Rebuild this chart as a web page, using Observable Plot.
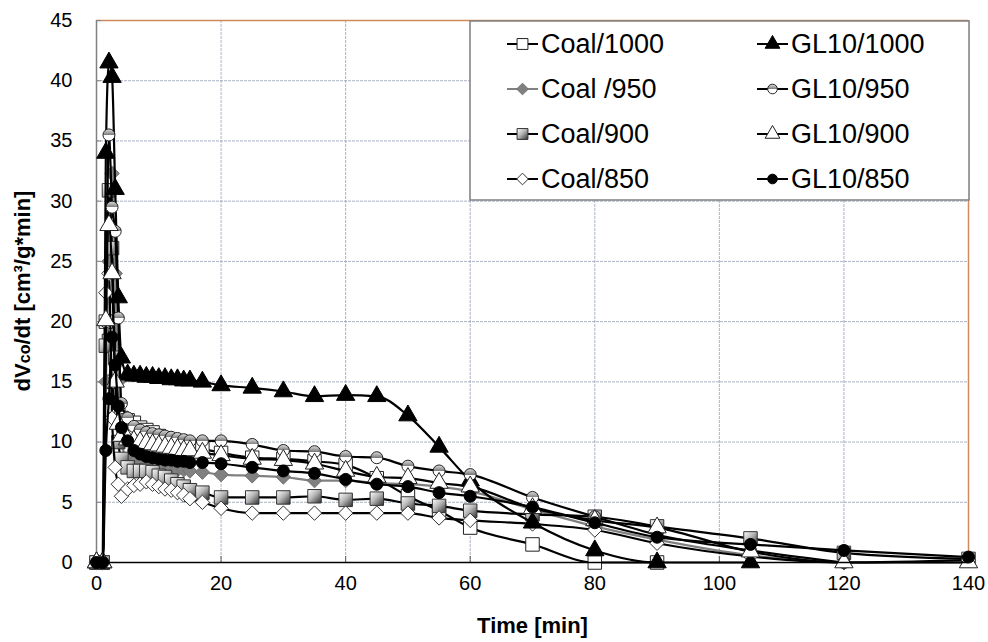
<!DOCTYPE html>
<html><head><meta charset="utf-8">
<script src="https://cdn.jsdelivr.net/npm/d3@7"></script>
<script src="https://cdn.jsdelivr.net/npm/@observablehq/plot@0.6"></script>
<style>
html,body{margin:0;padding:0;background:#fff;}
#wrap{position:relative;width:988px;height:642px;}
</style></head><body><div id="wrap"></div>
<script>
// ---- data (time in min, dVco/dt in cm3/g*min) ----
const times     = [0, 1, 1.5, 2, 2.5, 3, 3.5, 4, 5, 6, 7, 8, 9, 10, 11, 12, 13, 14, 15, 17, 20, 25, 30, 35, 40, 45, 50, 55, 60, 70, 80, 90, 105, 120, 140];
const coal1000  = [0, 0, 20.0, 18.4, 15.0, 13.0, 12.3, 12.0, 11.8, 11.6, 11.2, 11.0, 10.8, 10.5, 10.3, 10.1, 9.8, 9.6, 9.4, 9.4, 9.1, 8.7, 8.6, 8.4, 8.1, 7.0, 5.5, 4.3, 2.9, 1.5, 0, 0, null, null, null];
const coal950   = [0, 0, 15, 25, 32.3, 24, 15, 10, 8.5, 8.3, 8.2, 8.1, 8.0, 8.0, 7.9, 7.8, 7.7, 7.7, 7.6, 7.5, 7.3, 7.2, 7.1, 6.8, 6.8, 6.6, 6.5, 6.3, 5.9, 4.4, 3.0, 1.9, 0.6, 0, null];
const coal900   = [0, 0, 18, 30.9, 26.1, 17, 10, 8.6, 7.9, 7.6, 7.6, 7.6, 7.5, 7.2, 7.1, 6.8, 6.5, 6.3, 6.0, 5.8, 5.4, 5.4, 5.4, 5.5, 5.2, 5.3, 4.9, 4.7, 4.3, 4.0, 3.8, 3.0, 2.0, 0.8, 0.3];
const coal850   = [0, 0, 22.4, 24.0, 12, 7.9, 6.5, 5.5, 6.1, 6.4, 6.5, 6.7, 6.5, 6.3, 6.1, 6.0, 5.8, 5.6, 5.3, 5.0, 4.5, 4.1, 4.1, 4.1, 4.1, 4.1, 4.1, 3.7, 3.5, 3.2, 2.7, 1.6, 0.5, 0, 0.2];
const gl1000    = [0, 0, 34, 41.5, 40.3, 31, 22, 17, 15.6, 15.5, 15.5, 15.4, 15.4, 15.3, 15.3, 15.2, 15.2, 15.1, 15.1, 15.0, 14.7, 14.5, 14.2, 13.8, 13.9, 13.8, 12.2, 9.6, 6.8, 3.3, 1.0, 0, 0, null, null];
const gl950     = [0, 0, 20, 35.5, 29.5, 27.5, 20.3, 13.2, 12.0, 11.3, 11.0, 10.8, 10.7, 10.6, 10.5, 10.4, 10.3, 10.2, 10.1, 10.1, 10.1, 9.8, 9.3, 9.2, 8.8, 8.7, 8.0, 7.6, 7.3, 5.4, 3.8, 2.3, 1.0, 0, null];
const gl900     = [0, 0, 20.1, 28, 24, 15, 11.5, 10.5, 10.2, 10.1, 10.0, 9.9, 9.8, 9.7, 9.6, 9.5, 9.4, 9.3, 9.3, 9.1, 8.9, 8.6, 8.5, 8.2, 7.6, 7.1, 7.0, 6.6, 6.3, 4.5, 3.5, 2.9, 0.9, 0, 0];
const gl850     = [0, 0, 9.3, 13.6, 18.7, 16.4, 13.0, 11.2, 10.1, 9.3, 9.0, 8.8, 8.7, 8.6, 8.5, 8.5, 8.4, 8.4, 8.3, 8.3, 8.2, 7.9, 7.6, 7.4, 6.9, 6.5, 6.3, 5.8, 5.5, 4.6, 3.3, 2.1, 1.5, 1.0, 0.45];

const seriesNames  = ["Coal/1000", "Coal /950", "Coal/900", "Coal/850", "GL10/1000", "GL10/950", "GL10/900", "GL10/850"];
const seriesValues = [coal1000, coal950, coal900, coal850, gl1000, gl950, gl900, gl850];
const xTicks = [0, 20, 40, 60, 80, 100, 120, 140];
const yTicks = [0, 5, 10, 15, 20, 25, 30, 35, 40, 45];

// ---- styles ----
const seriesStyle = [
  {symbol: "square",   r: 7.6, fill: "white",      stroke: "#222", line: "black"},
  {symbol: "diamond2", r: 6.5, fill: "#808080",    stroke: "#707070", line: "#808080"},
  {symbol: "square",   r: 7.6, fill: "url(#gSq)",  stroke: "#333", line: "black"},
  {symbol: "diamond2", r: 6.5, fill: "white",      stroke: "#333", line: "black"},
  {symbol: "triangle", r: 6.8, fill: "black",      stroke: "black", line: "black"},
  {symbol: "circle",   r: 6.0, fill: "url(#gHalf)",stroke: "#222", line: "black"},
  {symbol: "triangle", r: 6.8, fill: "white",      stroke: "#222", line: "black"},
  {symbol: "circle",   r: 6.0, fill: "black",      stroke: "black", line: "black"}
];

const rowsBySeries = seriesNames.map((name, i) =>
  times.map((t, j) => ({series: name, t, v: seriesValues[i][j]})).filter(d => d.v != null));

const seriesMarks = rowsBySeries.flatMap((rows, i) => {
  const s = seriesStyle[i];
  return [
    Plot.line(rows, {x: "t", y: "v", curve: "monotone-x", stroke: s.line, strokeWidth: 2.2}),
    Plot.dot(rows, {x: "t", y: "v", symbol: s.symbol, r: s.r, fill: s.fill, stroke: s.stroke, strokeWidth: 1})
  ];
});

const chart = Plot.plot({
  width: 988, height: 642,
  marginLeft: 96, marginRight: 20, marginTop: 20, marginBottom: 80,
  x: {domain: [0, 140]},
  y: {domain: [0, 45]},
  style: {fontFamily: "'Liberation Sans', Arial, sans-serif", fontSize: "20px", background: "white", overflow: "visible", color: "black"},
  marks: [
    Plot.gridX(xTicks.filter(t => t > 0 && t < 140), {stroke: "#8e9ab0", strokeOpacity: 0.75, strokeDasharray: "3,1"}),
    Plot.gridY(yTicks.filter(t => t > 0 && t < 45), {stroke: "#8e9ab0", strokeOpacity: 0.75, strokeDasharray: "3,1"}),
    Plot.ruleY([45], {stroke: "#d08a5c", strokeWidth: 1.5}),
    Plot.ruleX([140], {stroke: "#d08a5c", strokeWidth: 1.5}),
    Plot.ruleX([0], {stroke: "#808080", strokeWidth: 1.5}),
    Plot.axisY({ticks: yTicks, tickSize: -5, tickFormat: () => "", stroke: "#808080", label: null}),
    Plot.axisX({ticks: xTicks, tickSize: -6, tickFormat: () => "", stroke: "#606060", label: null}),
    Plot.axisX({ticks: xTicks, tickSize: 0, tickPadding: 13, label: null}),
    Plot.axisY({ticks: yTicks, tickSize: 0, tickPadding: 24, label: null}),
    ...seriesMarks,
    Plot.ruleY([0], {stroke: "black", strokeWidth: 1.5}),
    Plot.text(["Time [min]"], {text: d => d, frameAnchor: "bottom", dy: 63, fontWeight: "bold", fontSize: 22, lineAnchor: "middle"})
  ]
});

document.getElementById("wrap").appendChild(chart);

// gradients
const svg = d3.select(chart);
const defs = svg.insert("defs", ":first-child");
const gSq = defs.append("linearGradient").attr("id", "gSq").attr("x1", 0).attr("y1", 0).attr("x2", 1).attr("y2", 1);
gSq.append("stop").attr("offset", "0%").attr("stop-color", "#ffffff");
gSq.append("stop").attr("offset", "45%").attr("stop-color", "#b8b8b8");
gSq.append("stop").attr("offset", "100%").attr("stop-color", "#303030");
const gHalf = defs.append("linearGradient").attr("id", "gHalf").attr("x1", 0).attr("y1", 0).attr("x2", 0).attr("y2", 1);
gHalf.append("stop").attr("offset", "0%").attr("stop-color", "#e0e0e0");
gHalf.append("stop").attr("offset", "50%").attr("stop-color", "#7a7a7a");
gHalf.append("stop").attr("offset", "50%").attr("stop-color", "#ffffff");
gHalf.append("stop").attr("offset", "100%").attr("stop-color", "#ffffff");

// y-axis title
const yt = svg.append("text")
  .attr("transform", "translate(22,291) rotate(-90)")
  .attr("text-anchor", "middle").attr("dy", "0.35em")
  .attr("font-weight", "bold").attr("font-size", 22).attr("fill", "black");
yt.append("tspan").text("dV");
yt.append("tspan").attr("font-size", 16).text("co");
yt.append("tspan").text("/dt [cm³/g*min]");

// legend
const lg = svg.append("g").attr("text-anchor", "start");
lg.append("rect").attr("x", 470).attr("y", 21).attr("width", 499).attr("height", 179)
  .attr("fill", "white").attr("stroke", "#808080").attr("stroke-width", 1.5);
const symMap = {square: d3.symbolSquare, diamond2: d3.symbolDiamond2, triangle: d3.symbolTriangle, circle: d3.symbolCircle};
seriesNames.forEach((name, i) => {
  const col = Math.floor(i / 4), row = i % 4;
  const x0 = 507 + col * 250, cy = 44 + row * 45;
  const s = seriesStyle[i];
  lg.append("line").attr("x1", x0).attr("x2", x0 + 31).attr("y1", cy).attr("y2", cy)
    .attr("stroke", s.line).attr("stroke-width", 2);
  lg.append("path").attr("d", d3.symbol(symMap[s.symbol], s.r * s.r * Math.PI * 0.65)())
    .attr("transform", `translate(${x0 + 15.5},${cy})`)
    .attr("fill", s.fill).attr("stroke", s.stroke).attr("stroke-width", 1);
  lg.append("text").attr("x", x0 + 34).attr("y", cy).attr("dy", "0.35em")
    .attr("text-anchor", "start")
    .attr("font-size", 27).attr("fill", "black").text(name);
});
</script></body></html>
